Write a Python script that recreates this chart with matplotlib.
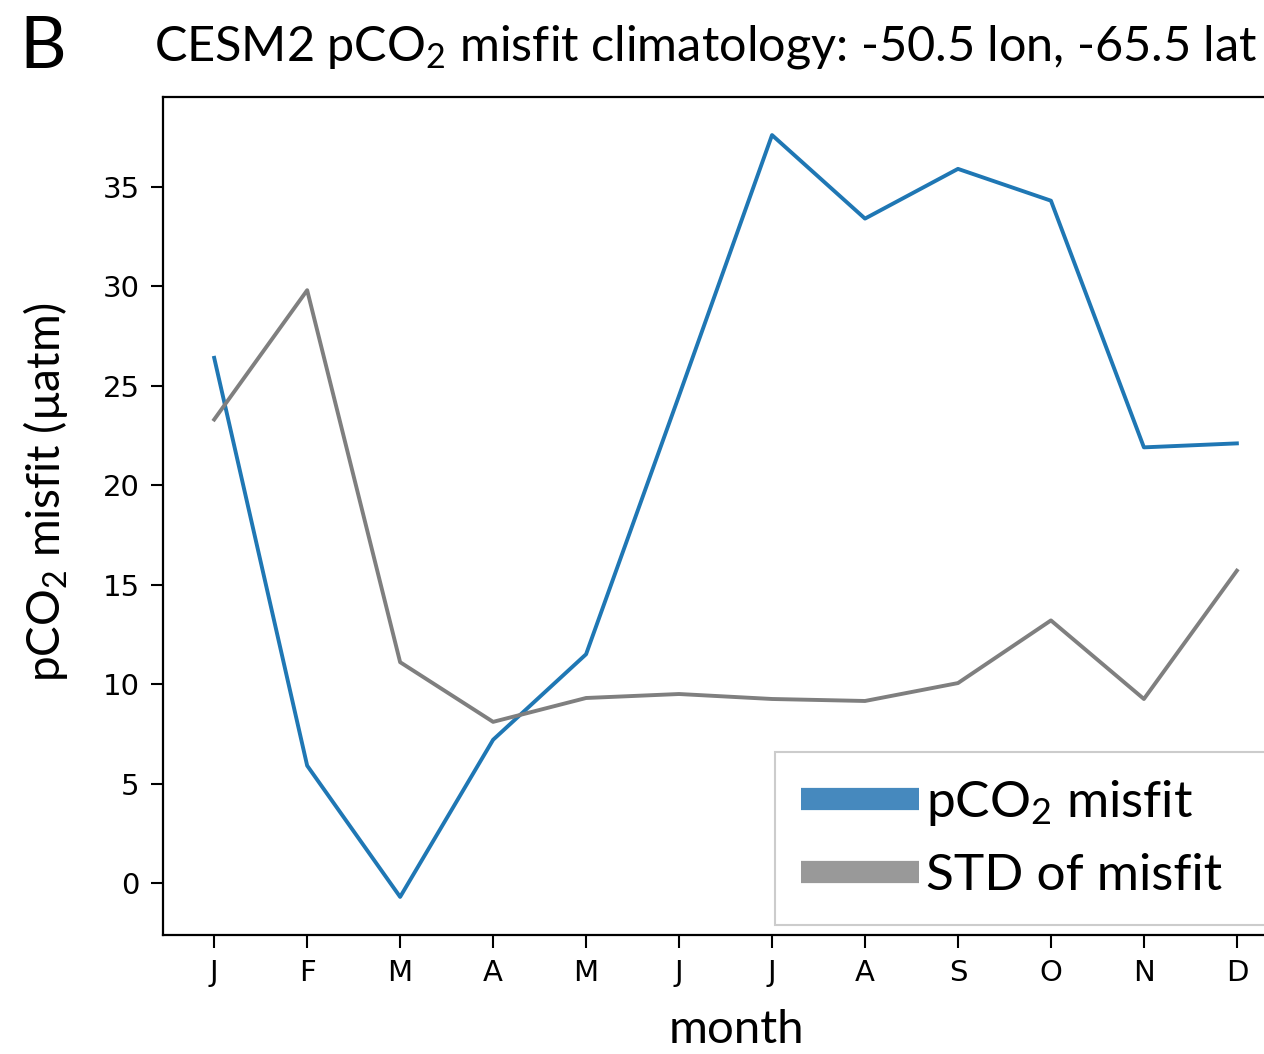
import numpy as np
import matplotlib
matplotlib.use("Agg")
import matplotlib.pyplot as plt

# month labels and the two series
months = ["J", "F", "M", "A", "M", "J", "J", "A", "S", "O", "N", "D"]
misfit = [26.4, 5.9, -0.7, 7.2, 11.5, 24.5, 37.6, 33.4, 35.9, 34.3, 21.9, 22.1]
std_misfit = [23.3, 29.8, 11.1, 8.1, 9.3, 9.5, 9.25, 9.15, 10.05, 13.2, 9.25, 15.7]

label_font = "Lato"
plt.rcParams["mathtext.fontset"] = "custom"
plt.rcParams["mathtext.rm"] = label_font
plt.rcParams["mathtext.default"] = "regular"

fig = plt.figure(figsize=(12.64, 10.54), dpi=100)
# axes run past the right edge, the original picture is cropped there
ax = fig.add_axes([0.129, 0.1129, 0.89, 0.7951])

x = np.arange(len(months))
ax.plot(x, misfit, color="#1f77b4", lw=2.8, label=r"pCO$_2$ misfit")
ax.plot(x, std_misfit, color="#7f7f7f", lw=2.8, label="STD of misfit")

ax.set_xticks(x)
ax.set_xticklabels(months)
ax.set_yticks([0, 5, 10, 15, 20, 25, 30, 35])
ax.tick_params(labelsize=21, length=9, width=1.5, pad=8)
for s in ax.spines.values():
    s.set_linewidth(1.6)

ax.set_xlabel("month", fontsize=34, family=label_font)
ax.set_ylabel(r"pCO$_2$ misfit (µatm)", fontsize=33, family=label_font)
ax.xaxis.set_label_coords(0.51, -0.088)
ax.yaxis.set_label_coords(-0.083, 0.529)

# legend box: from (775, 925) px, running past the cropped right edge
leg = ax.legend(loc="lower left", mode="expand",
                bbox_to_anchor=(775 / 1264, 1 - 925 / 1054, 510 / 1264, 0.1),
                bbox_transform=fig.transFigure,
                prop={"family": label_font, "size": 37},
                handlelength=2.3, handletextpad=0.13, borderpad=0.5, labelspacing=0.5,
                borderaxespad=0, fancybox=False, edgecolor="#cccccc", framealpha=1)
leg.get_frame().set_linewidth(1.5)
for h, c in zip(leg.get_lines(), ["#4689be", "#999999"]):
    h.set_linewidth(16)
    h.set_color(c)
    h.set_solid_capstyle("butt")

fig.text(0.122, 0.955, r"CESM2 pCO$_2$ misfit climatology: -50.5 lon, -65.5 lat",
         fontsize=35, family=label_font, va="center", ha="left")
fig.text(0.015, 0.955, "B", fontsize=52, family=label_font, va="center", ha="left")

plt.savefig("out.png", dpi=100)
